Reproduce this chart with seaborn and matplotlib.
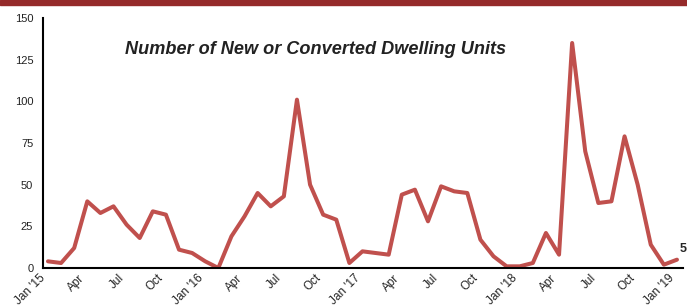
import matplotlib
matplotlib.use("Agg")
import matplotlib.pyplot as plt
import matplotlib.transforms as mtransforms
from matplotlib.patches import Rectangle
import seaborn as sns
import numpy as np
import pandas as pd

# monthly counts, Jan 2015 .. Jan 2019
months = pd.date_range("2015-01-01", "2019-01-01", freq="MS")
units = [4, 3, 12, 40, 33, 37, 26, 18, 34, 32, 11, 9,
         4, 0, 19, 31, 45, 37, 43, 101, 50, 32, 29, 3,
         10, 9, 8, 44, 47, 28, 49, 46, 45, 17, 7, 1,
         1, 3, 21, 8, 135, 70, 39, 40, 79, 50, 14, 2,
         5]
tick_labels = ["Jan '15", "Apr", "Jul", "Oct", "Jan '16", "Apr", "Jul", "Oct",
               "Jan '17", "Apr", "Jul", "Oct", "Jan '18", "Apr", "Jul", "Oct", "Jan '19"]
y_ticks = [0, 25, 50, 75, 100, 125, 150]

df = pd.DataFrame({"idx": np.arange(len(units)), "month": months, "units": units})

sns.set_style("white")
plt.rcParams['font.family'] = ['Liberation Sans', 'DejaVu Sans']

fig = plt.figure(figsize=(6.87, 3.07), dpi=100)
ax = fig.add_axes([43 / 687, 39 / 307, 640 / 687, 250 / 307])

sns.lineplot(data=df, x="idx", y="units", ax=ax, color="#c0504d", linewidth=2.9)

ax.set_xlim(-0.38, 48.46)
ax.set_ylim(0, 150)
ax.set_yticks(y_ticks)
ax.set_yticklabels([str(v) for v in y_ticks], fontsize=8, color="#222222")
ax.set_xticks(np.arange(0, len(units), 3))
ax.set_xticklabels(tick_labels, fontsize=8.5, rotation=45, ha="right", color="#222222")
offset = mtransforms.ScaledTranslation(4 / 100, 0, fig.dpi_scale_trans)
for lbl in ax.get_xticklabels():
    lbl.set_transform(lbl.get_transform() + offset)
ax.tick_params(axis="both", length=0)
ax.tick_params(axis="y", pad=7)
ax.tick_params(axis="x", pad=3)
ax.set_xlabel("")
ax.set_ylabel("")

for side in ["top", "right"]:
    ax.spines[side].set_visible(False)
for side in ["left", "bottom"]:
    ax.spines[side].set_color("black")
    ax.spines[side].set_linewidth(1.5)

ax.text(0.426, 0.875, "Number of New or Converted Dwelling Units", transform=ax.transAxes,
        fontsize=13.1, fontweight="bold", fontstyle="italic", color="#222222",
        ha="center", va="center")

ax.annotate(str(units[-1]), xy=(len(units) - 1, units[-1]), xytext=(2, 8),
            textcoords="offset points", fontsize=9, fontweight="bold",
            ha="left", va="center", annotation_clip=False)

fig.patches.append(Rectangle((0, 1 - 5 / 307), 1, 5 / 307, transform=fig.transFigure,
                             color="#952a2a", zorder=10))

fig.savefig("out.png", dpi=100)
